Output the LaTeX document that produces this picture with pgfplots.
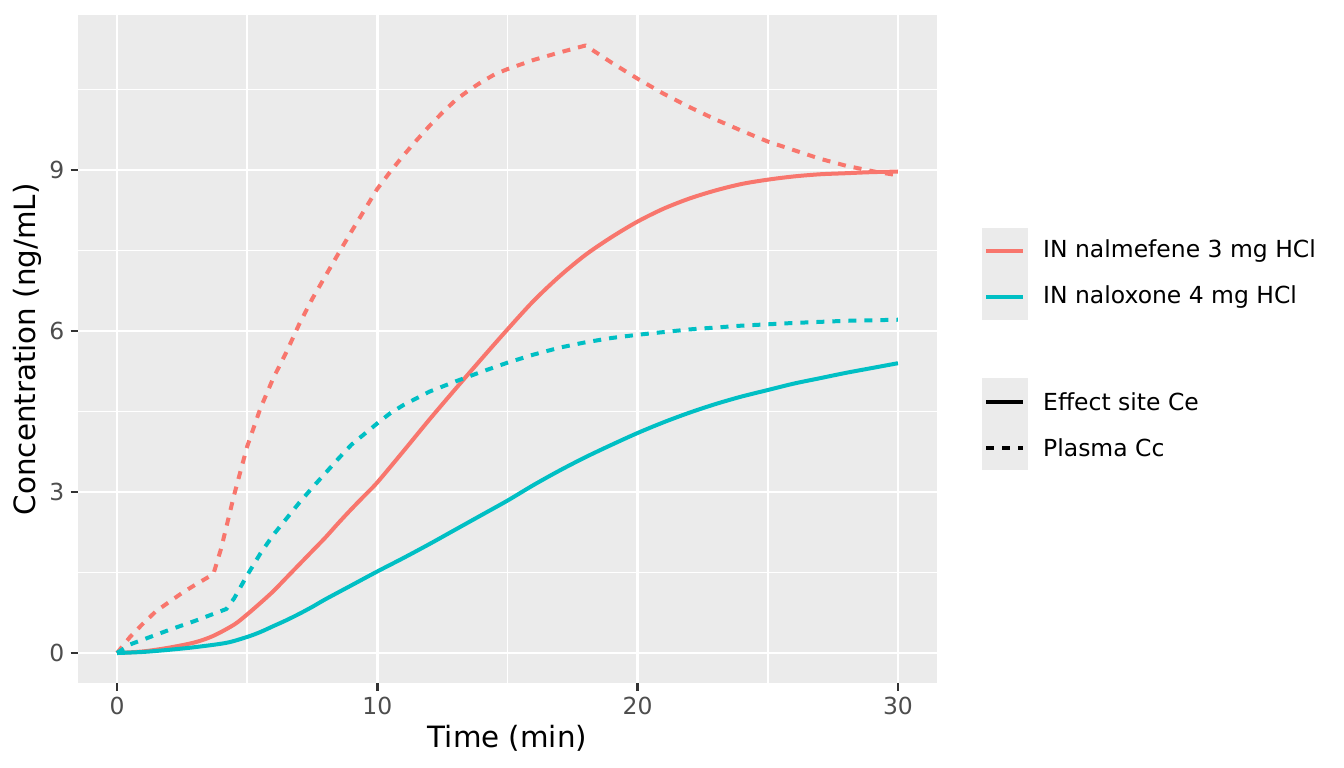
\documentclass[border=0pt]{standalone}
\usepackage{pgfplots}
\pgfplotsset{compat=1.18}
\usepackage{fontspec}
\setmainfont{DejaVu Sans}

\definecolor{nalcol}{HTML}{F8766D}
\definecolor{naxcol}{HTML}{00BFC4}
\definecolor{panelbg}{HTML}{EBEBEB}
\definecolor{ticktext}{HTML}{4D4D4D}
\definecolor{tickcol}{HTML}{333333}

\begin{document}
\begin{tikzpicture}[x=1pt,y=1pt]
\useasboundingbox (0,0) rectangle (504,288);
\begin{axis}[
  at={(29.25pt,31.72pt)}, anchor=south west,
  scale only axis, width=322.125pt, height=250.65pt,
  xmin=-1.5, xmax=31.5, ymin=-0.566, ymax=11.888,
  axis background/.style={fill=panelbg},
  axis line style={draw=none},
  xtick={0,10,20,30}, ytick={0,3,6,9},
  minor xtick={5,15,25}, minor ytick={1.5,4.5,7.5,10.5},
  grid=both,
  major grid style={white, line width=1.07pt},
  minor grid style={white, line width=0.53pt},
  tick align=outside, major tick length=2.75pt, minor tick length=0pt,
  tick style={tickcol, line width=1.07pt},
  xtick pos=bottom, ytick pos=left,
  /pgf/number format/assume math mode=true,
  tick label style={font=\fontsize{8.8}{10}\selectfont, text=ticktext},
  xticklabel style={inner sep=0pt, anchor=north, yshift=-2.2pt},
  yticklabel style={inner sep=0pt, anchor=east, xshift=-2.2pt},
  xlabel={Time (min)}, ylabel={Concentration (ng/mL)},
  label style={font=\fontsize{11}{13}\selectfont},
  xlabel style={at={(rel axis cs:0.5,0)}, anchor=center, yshift=-20.5pt},
  ylabel style={at={(rel axis cs:0,0.5)}, anchor=center, yshift=19.1pt},
  every axis plot/.append style={line width=1.5pt, line join=round},
  clip=true,
]
% nalmefene, plasma Cc
\addplot[nalcol, dash pattern=on 3pt off 3pt] coordinates {
 (0,0) (0.5,0.3) (1,0.55) (1.5,0.78) (2,0.95) (2.5,1.12) (3,1.27) (3.7,1.47)
 (4,1.95) (4.5,2.95) (5,3.85) (5.5,4.55) (6,5.12) (6.5,5.6) (7,6.13) (7.5,6.6)
 (8,7.02) (8.5,7.44) (9,7.85) (9.5,8.25) (10,8.65) (10.5,8.97) (11,9.27)
 (11.5,9.55) (12,9.82) (12.5,10.07) (13,10.3) (13.5,10.48) (14,10.64)
 (14.5,10.78) (15,10.88) (16,11.05) (17,11.19) (18,11.32) (19,11.0) (20,10.7)
 (21,10.42) (22,10.17) (23,9.94) (24,9.73) (25,9.53) (26,9.37) (27,9.21)
 (28,9.08) (29,8.98) (30,8.9)};
% nalmefene, effect site Ce
\addplot[nalcol, smooth, tension=0.5] coordinates {
 (0,0) (1,0.03) (2,0.1) (3,0.2) (3.7,0.32) (4.5,0.53) (5,0.72) (5.5,0.93)
 (6,1.15) (6.5,1.4) (7,1.65) (7.5,1.9) (8,2.15) (8.5,2.42) (9,2.68) (9.5,2.93)
 (10,3.18) (11,3.76) (12,4.35) (13,4.92) (14,5.48) (15,6.03) (16,6.56)
 (17,7.02) (18,7.42) (19,7.75) (20,8.04) (21,8.28) (22,8.47) (23,8.62)
 (24,8.74) (25,8.82) (26,8.88) (27,8.92) (28,8.94) (29,8.96) (30,8.97)};
% naloxone, plasma Cc
\addplot[naxcol, dash pattern=on 3pt off 3pt] coordinates {
 (0,0) (0.5,0.16) (1,0.25) (2,0.43) (3,0.6) (4.2,0.82) (4.5,1.02) (5,1.45)
 (5.5,1.85) (6,2.2) (6.5,2.5) (7,2.8) (7.5,3.08) (8,3.35) (8.5,3.62) (9,3.88)
 (9.5,4.08) (10,4.28) (10.5,4.47) (11,4.62) (12,4.87) (13,5.06) (14,5.24)
 (15,5.41) (16,5.56) (17,5.69) (18,5.79) (19,5.87) (20,5.93) (22,6.03)
 (24,6.1) (26,6.15) (28,6.19) (30,6.21)};
% naloxone, effect site Ce
\addplot[naxcol, smooth, tension=0.5] coordinates {
 (0,0) (1,0.02) (2,0.06) (3,0.11) (4.2,0.19) (5,0.3) (5.5,0.39) (6,0.5)
 (6.5,0.61) (7,0.73) (7.5,0.86) (8,1.0) (9,1.26) (10,1.52) (11,1.77)
 (12,2.03) (13,2.3) (14,2.57) (15,2.84) (16,3.13) (17,3.4) (18,3.65)
 (19,3.88) (20,4.1) (21,4.3) (22,4.48) (23,4.64) (24,4.78) (25,4.9)
 (26,5.02) (27,5.12) (28,5.22) (29,5.31) (30,5.4)};
\end{axis}

% legend: drug (colour)
\fill[panelbg] (368.25,168.0) rectangle (385.5,202.5);
\draw[nalcol, line width=1.5pt] (369.75,194.0) -- (383.6,194.0);
\draw[naxcol, line width=1.5pt] (369.75,176.7) -- (383.6,176.7);
\node[anchor=west, inner sep=0pt, font=\fontsize{8.8}{10}\selectfont] at (391.0,194.0) {IN nalmefene 3 mg HCl};
\node[anchor=west, inner sep=0pt, font=\fontsize{8.8}{10}\selectfont] at (391.0,176.7) {IN naloxone 4 mg HCl};

% legend: compartment (line type)
\fill[panelbg] (368.25,111.56) rectangle (385.5,146.25);
\draw[black, line width=1.5pt] (369.75,137.4) -- (383.6,137.4);
\draw[black, line width=1.5pt, dash pattern=on 3pt off 3pt] (369.75,119.9) -- (383.6,119.9);
\node[anchor=west, inner sep=0pt, font=\fontsize{8.8}{10}\selectfont] at (391.0,137.4) {Effect site Ce};
\node[anchor=west, inner sep=0pt, font=\fontsize{8.8}{10}\selectfont] at (391.0,119.9) {Plasma Cc};
\end{tikzpicture}
\end{document}
